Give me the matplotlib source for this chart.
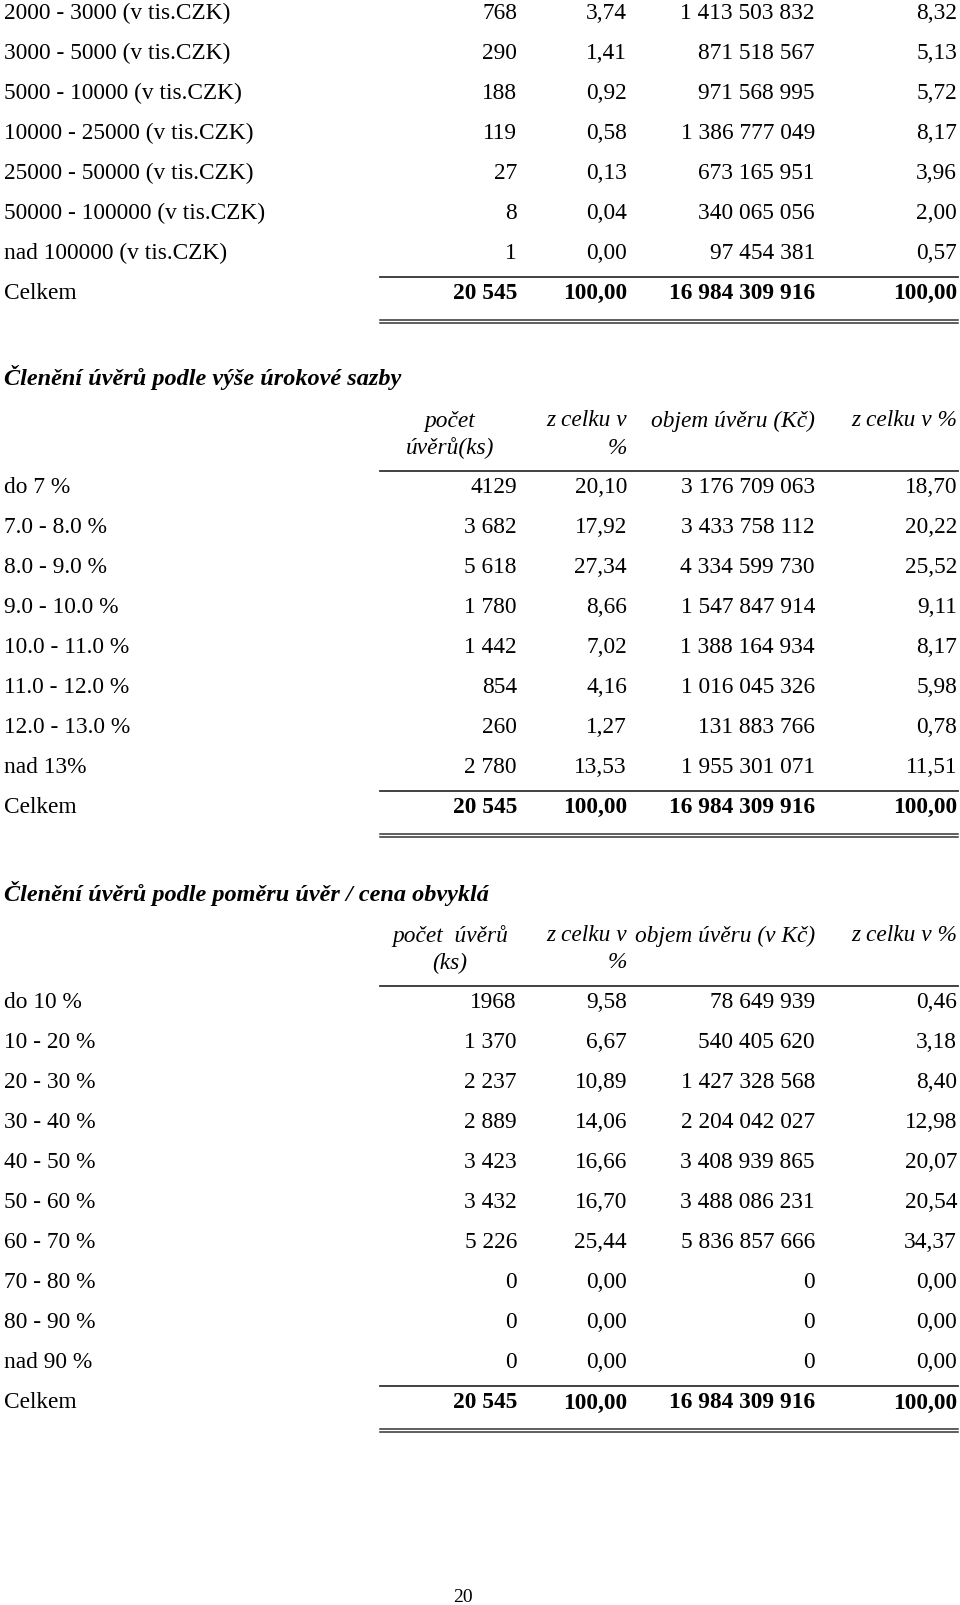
import matplotlib.pyplot as plt

plt.rcParams['font.family'] = ['Liberation Serif', 'DejaVu Serif']

# --- table 1 (continued from previous page) ---
t1_labels = ["2000 - 3000 (v tis.CZK)", "3000 - 5000 (v tis.CZK)", "5000 - 10000 (v tis.CZK)",
             "10000 - 25000 (v tis.CZK)", "25000 - 50000 (v tis.CZK)", "50000 - 100000 (v tis.CZK)",
             "nad 100000 (v tis.CZK)"]
t1_count = ["768", "290", "188", "119", "27", "8", "1"]
t1_count_pct = ["3,74", "1,41", "0,92", "0,58", "0,13", "0,04", "0,00"]
t1_volume = ["1 413 503 832", "871 518 567", "971 568 995", "1 386 777 049", "673 165 951",
             "340 065 056", "97 454 381"]
t1_volume_pct = ["8,32", "5,13", "5,72", "8,17", "3,96", "2,00", "0,57"]

# --- table 2 ---
t2_title = "Členění úvěrů podle výše úrokové sazby"
t2_head = [["počet", "úvěrů(ks)"], ["z celku v", "%"], ["objem úvěru (Kč)"], ["z celku v %"]]
t2_labels = ["do 7 %", "7.0 - 8.0 %", "8.0 - 9.0 %", "9.0 - 10.0 %", "10.0 - 11.0 %",
             "11.0 - 12.0 %", "12.0 - 13.0 %", "nad 13%"]
t2_count = ["4129", "3 682", "5 618", "1 780", "1 442", "854", "260", "2 780"]
t2_count_pct = ["20,10", "17,92", "27,34", "8,66", "7,02", "4,16", "1,27", "13,53"]
t2_volume = ["3 176 709 063", "3 433 758 112", "4 334 599 730", "1 547 847 914", "1 388 164 934",
             "1 016 045 326", "131 883 766", "1 955 301 071"]
t2_volume_pct = ["18,70", "20,22", "25,52", "9,11", "8,17", "5,98", "0,78", "11,51"]

# --- table 3 ---
t3_title = "Členění úvěrů podle poměru úvěr / cena obvyklá"
t3_head = [["počet  úvěrů", "(ks)"], ["z celku v", "%"], ["objem úvěru (v Kč)"], ["z celku v %"]]
t3_labels = ["do 10 %", "10 - 20 %", "20 - 30 %", "30 - 40 %", "40 - 50 %", "50 - 60 %",
             "60 - 70 %", "70 - 80 %", "80 - 90 %", "nad 90 %"]
t3_count = ["1968", "1 370", "2 237", "2 889", "3 423", "3 432", "5 226", "0", "0", "0"]
t3_count_pct = ["9,58", "6,67", "10,89", "14,06", "16,66", "16,70", "25,44", "0,00", "0,00", "0,00"]
t3_volume = ["78 649 939", "540 405 620", "1 427 328 568", "2 204 042 027", "3 408 939 865",
             "3 488 086 231", "5 836 857 666", "0", "0", "0"]
t3_volume_pct = ["0,46", "3,18", "8,40", "12,98", "20,07", "20,54", "34,37", "0,00", "0,00", "0,00"]

total = ["20 545", "100,00", "16 984 309 916", "100,00"]
page_no = "20"

W, H = 960, 1606
fig = plt.figure(figsize=(W / 100, H / 100), dpi=100)
ax = fig.add_axes([0, 0, 1, 1])
ax.set_xlim(0, W)
ax.set_ylim(H, 0)
ax.axis('off')

FS = 16.8
FS_TITLE = 17.5
col_right = [517, 627, 815, 957]
x_label = 4
line_x0, line_x1 = 380, 958
row_h = 40.0
lc = '#333333'


def body(y0, labels, cols):
    for i, lab in enumerate(labels):
        y = y0 + i * row_h
        ax.text(x_label, y, lab, fontsize=FS, ha='left', va='center')
        for xr, vals in zip(col_right, cols):
            ax.text(xr, y, vals[i], fontsize=FS, ha='right', va='center')
    y = y0 + len(labels) * row_h
    ax.plot([line_x0, line_x1], [y - 16, y - 16], color=lc, lw=1.3)
    ax.text(x_label, y, "Celkem", fontsize=FS, ha='left', va='center')
    for xr, v in zip(col_right, total):
        ax.text(xr, y, v, fontsize=FS, ha='right', va='center', fontweight='bold')
    ax.plot([line_x0, line_x1], [y + 27, y + 27], color=lc, lw=1.1)
    ax.plot([line_x0, line_x1], [y + 30, y + 30], color=lc, lw=1.1)


def header(y_title, y_h1, head):
    ax.text(x_label, y_title, head[0], fontsize=FS_TITLE, ha='left', va='center',
            fontstyle='italic', fontweight='bold')
    spec = head[1]
    for j, lines in enumerate(spec):
        for k, s in enumerate(lines):
            yy = y_h1 + k * 27
            if j == 0:
                ax.text(450, yy, s, fontsize=FS, ha='center', va='center', fontstyle='italic')
            else:
                ax.text(col_right[j], yy, s, fontsize=FS, ha='right', va='center', fontstyle='italic')
    ax.plot([line_x0, line_x1], [y_h1 + 51, y_h1 + 51], color=lc, lw=1.3)


body(13.5, t1_labels, [t1_count, t1_count_pct, t1_volume, t1_volume_pct])

header(378, 421, (t2_title, t2_head))
body(487.5, t2_labels, [t2_count, t2_count_pct, t2_volume, t2_volume_pct])

header(894, 936, (t3_title, t3_head))
body(1003, t3_labels, [t3_count, t3_count_pct, t3_volume, t3_volume_pct])

ax.text(463, 1598, page_no, fontsize=14, ha='center', va='center')

fig.savefig('out.png', dpi=100)
